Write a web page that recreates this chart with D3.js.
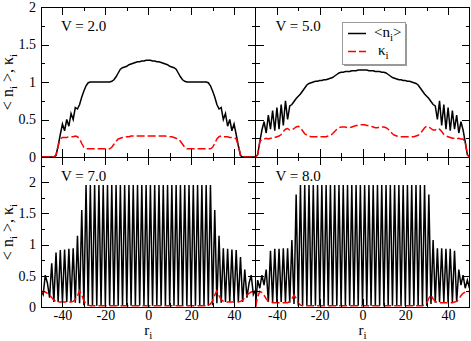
<!DOCTYPE html>
<html>
<head>
<meta charset="utf-8">
<script src="https://cdn.jsdelivr.net/npm/d3@7"></script>
<style>
  body { margin: 0; background: #fff; }
  svg text { font-family: "Liberation Serif", "Times New Roman", serif; fill: #000; }
</style>
</head>
<body>
<div id="chart"></div>
<script>
// lattice sites r_i, values in rows of ten sites (-50..-41, -40..-31, ...)
const sites = d3.range(-50, 51);

const n2 = [
  0, 0, 0, 0, 0, 0, 0, 0.02, 0.15, 0.30,
  0.44, 0.35, 0.50, 0.41, 0.58, 0.50, 0.66, 0.64, 0.70, 0.80,
  0.88, 0.95, 0.99, 1.00, 1.00, 1.00, 1.00, 1.00, 1.00, 1.00,
  1.00, 1.00, 1.00, 1.01, 1.03, 1.07, 1.12, 1.17, 1.19, 1.20,
  1.21, 1.23, 1.24, 1.25, 1.26, 1.27, 1.27, 1.28, 1.28, 1.29,
  1.29,
  1.29, 1.28, 1.28, 1.27, 1.27, 1.26, 1.25, 1.24, 1.23, 1.21,
  1.20, 1.19, 1.17, 1.12, 1.07, 1.03, 1.01, 1.00, 1.00, 1.00,
  1.00, 1.00, 1.00, 1.00, 1.00, 1.00, 1.00, 0.99, 0.95, 0.88,
  0.80, 0.70, 0.64, 0.66, 0.50, 0.58, 0.41, 0.50, 0.35, 0.44,
  0.30, 0.15, 0.02, 0, 0, 0, 0, 0, 0, 0
];
const k2 = [
  0, 0, 0, 0, 0, 0, 0, 0.03, 0.15, 0.24,
  0.26, 0.26, 0.26, 0.27, 0.27, 0.27, 0.28, 0.27, 0.24, 0.18,
  0.13, 0.11, 0.11, 0.11, 0.11, 0.11, 0.11, 0.11, 0.11, 0.11,
  0.11, 0.11, 0.11, 0.13, 0.17, 0.21, 0.24, 0.25, 0.26, 0.27,
  0.27, 0.27, 0.28, 0.28, 0.28, 0.28, 0.28, 0.28, 0.28, 0.28,
  0.28,
  0.28, 0.28, 0.28, 0.28, 0.28, 0.28, 0.28, 0.28, 0.27, 0.27,
  0.27, 0.26, 0.25, 0.24, 0.21, 0.17, 0.13, 0.11, 0.11, 0.11,
  0.11, 0.11, 0.11, 0.11, 0.11, 0.11, 0.11, 0.11, 0.11, 0.13,
  0.18, 0.24, 0.27, 0.28, 0.27, 0.27, 0.27, 0.26, 0.26, 0.26,
  0.24, 0.15, 0.03, 0, 0, 0, 0, 0, 0, 0
];
const n5 = [
  0, 0.03, 0.20, 0.36, 0.47, 0.32, 0.56, 0.37, 0.62, 0.35,
  0.66, 0.37, 0.70, 0.42, 0.75, 0.50, 0.68, 0.70, 0.74, 0.78,
  0.81, 0.84, 0.88, 0.92, 0.96, 0.98, 0.99, 1.00, 1.01, 1.01,
  1.02, 1.02, 1.03, 1.03, 1.04, 1.05, 1.06, 1.08, 1.10, 1.12,
  1.13, 1.13, 1.14, 1.14, 1.14, 1.15, 1.15, 1.15, 1.16, 1.16,
  1.16,
  1.16, 1.16, 1.15, 1.15, 1.15, 1.14, 1.14, 1.14, 1.13, 1.13,
  1.12, 1.10, 1.08, 1.06, 1.05, 1.04, 1.03, 1.03, 1.02, 1.02,
  1.01, 1.01, 1.00, 0.99, 0.98, 0.96, 0.92, 0.88, 0.84, 0.81,
  0.78, 0.74, 0.70, 0.68, 0.50, 0.75, 0.42, 0.70, 0.37, 0.66,
  0.35, 0.62, 0.37, 0.56, 0.32, 0.47, 0.36, 0.20, 0.03, 0
];
const k5 = [
  0, 0.03, 0.20, 0.24, 0.24, 0.25, 0.24, 0.25, 0.25, 0.26,
  0.27, 0.28, 0.30, 0.34, 0.37, 0.38, 0.36, 0.36, 0.38, 0.40,
  0.41, 0.39, 0.35, 0.31, 0.29, 0.28, 0.27, 0.27, 0.27, 0.27,
  0.27, 0.27, 0.27, 0.27, 0.28, 0.29, 0.31, 0.34, 0.37, 0.39,
  0.40, 0.40, 0.40, 0.39, 0.39, 0.40, 0.41, 0.42, 0.42, 0.43,
  0.43,
  0.43, 0.42, 0.42, 0.41, 0.40, 0.39, 0.39, 0.40, 0.40, 0.40,
  0.39, 0.37, 0.34, 0.31, 0.29, 0.28, 0.27, 0.27, 0.27, 0.27,
  0.27, 0.27, 0.27, 0.27, 0.28, 0.29, 0.31, 0.35, 0.39, 0.41,
  0.40, 0.38, 0.36, 0.36, 0.38, 0.37, 0.34, 0.30, 0.28, 0.27,
  0.26, 0.25, 0.25, 0.24, 0.25, 0.24, 0.24, 0.20, 0.03, 0
];
const n7 = [
  0.27, 0.20, 0.51, 0.38, 0.15, 0.70, 0.08, 0.87, 0.08, 0.91,
  0.08, 0.92, 0.08, 0.93, 0.08, 0.94, 0.07, 1.14, 0.06, 1.55,
  0.03, 1.95, 0.02, 1.95, 0.02, 1.95, 0.02, 1.95, 0.02, 1.95,
  0.02, 1.95, 0.02, 1.95, 0.02, 1.95, 0.02, 1.95, 0.02, 1.95,
  0.02, 1.95, 0.02, 1.95, 0.02, 1.95, 0.02, 1.95, 0.02, 1.95,
  0.02,
  1.95, 0.02, 1.95, 0.02, 1.95, 0.02, 1.95, 0.02, 1.95, 0.02,
  1.95, 0.02, 1.95, 0.02, 1.95, 0.02, 1.95, 0.02, 1.95, 0.02,
  1.95, 0.02, 1.95, 0.02, 1.95, 0.02, 1.95, 0.02, 1.95, 0.03,
  1.55, 0.06, 1.14, 0.07, 0.94, 0.08, 0.93, 0.08, 0.92, 0.08,
  0.91, 0.08, 0.80, 0.08, 0.60, 0.15, 0.38, 0.51, 0.20, 0.27
];
const k7 = [
  0.22, 0.25, 0.24, 0.22, 0.19, 0.15, 0.11, 0.09, 0.08, 0.08,
  0.08, 0.08, 0.08, 0.08, 0.08, 0.09, 0.12, 0.18, 0.26, 0.19,
  0.10, 0.05, 0.03, 0.02, 0.02, 0.02, 0.02, 0.02, 0.02, 0.02,
  0.02, 0.02, 0.02, 0.02, 0.02, 0.02, 0.02, 0.02, 0.02, 0.02,
  0.02, 0.02, 0.02, 0.02, 0.02, 0.02, 0.02, 0.02, 0.02, 0.02,
  0.02,
  0.02, 0.02, 0.02, 0.02, 0.02, 0.02, 0.02, 0.02, 0.02, 0.02,
  0.02, 0.02, 0.02, 0.02, 0.02, 0.02, 0.02, 0.02, 0.02, 0.02,
  0.02, 0.02, 0.02, 0.02, 0.02, 0.02, 0.02, 0.03, 0.05, 0.10,
  0.19, 0.26, 0.18, 0.12, 0.09, 0.08, 0.08, 0.08, 0.08, 0.08,
  0.08, 0.08, 0.09, 0.11, 0.15, 0.19, 0.22, 0.24, 0.25, 0.22
];
const n8 = [
  0, 0.43, 0.30, 0.51, 0.35, 0.60, 0.08, 0.90, 0.08, 0.93,
  0.08, 0.93, 0.08, 0.94, 0.08, 0.94, 0.07, 1.07, 0.05, 1.80,
  0.02, 1.95, 0.02, 1.95, 0.02, 1.95, 0.02, 1.95, 0.02, 1.95,
  0.02, 1.95, 0.02, 1.95, 0.02, 1.95, 0.02, 1.95, 0.02, 1.95,
  0.02, 1.95, 0.02, 1.95, 0.02, 1.95, 0.02, 1.95, 0.02, 1.95,
  0.02,
  1.95, 0.02, 1.95, 0.02, 1.95, 0.02, 1.95, 0.02, 1.95, 0.02,
  1.95, 0.02, 1.95, 0.02, 1.95, 0.02, 1.95, 0.02, 1.95, 0.02,
  1.95, 0.02, 1.95, 0.02, 1.95, 0.02, 1.95, 0.02, 1.95, 0.02,
  1.80, 0.05, 1.07, 0.07, 0.94, 0.08, 0.94, 0.08, 0.93, 0.08,
  0.93, 0.08, 0.90, 0.08, 0.60, 0.35, 0.51, 0.30, 0.43, 0.30
];
const k8 = [
  0, 0.16, 0.25, 0.23, 0.19, 0.13, 0.09, 0.08, 0.07, 0.07,
  0.07, 0.07, 0.07, 0.07, 0.07, 0.07, 0.09, 0.13, 0.19, 0.14,
  0.06, 0.03, 0.02, 0.02, 0.02, 0.02, 0.02, 0.02, 0.02, 0.02,
  0.02, 0.02, 0.02, 0.02, 0.02, 0.02, 0.02, 0.02, 0.02, 0.02,
  0.02, 0.02, 0.02, 0.02, 0.02, 0.02, 0.02, 0.02, 0.02, 0.02,
  0.02,
  0.02, 0.02, 0.02, 0.02, 0.02, 0.02, 0.02, 0.02, 0.02, 0.02,
  0.02, 0.02, 0.02, 0.02, 0.02, 0.02, 0.02, 0.02, 0.02, 0.02,
  0.02, 0.02, 0.02, 0.02, 0.02, 0.02, 0.02, 0.02, 0.03, 0.06,
  0.14, 0.19, 0.13, 0.09, 0.07, 0.07, 0.07, 0.07, 0.07, 0.07,
  0.07, 0.07, 0.08, 0.09, 0.12, 0.18, 0.22, 0.24, 0.25, 0.25
];

const vLabels = ["V = 2.0", "V = 5.0", "V = 7.0", "V = 8.0"];
const xMajor = [-40, -20, 0, 20, 40];
const xMinor = [-30, -10, 10, 30];
const xTickLabels = ["-40", "-20", "0", "20", "40"];
const yMajor = [0, 0.5, 1, 1.5, 2];
const yMinor = [0.25, 0.75, 1.25, 1.75, 2.25];
const yTickLabels = ["0", "0.5", "1", "1.5", "2"];
const yMax = [2, 2.4];

const width = 471, height = 341;
const colX = [41, 255.5, 469.5],
    rowY = [7, 157, 307];

const svg = d3.select("#chart").append("svg")
    .attr("width", width)
    .attr("height", height);

const panels = [
    {label: vLabels[0], n: n2, k: k2, col: 0, row: 0},
    {label: vLabels[1], n: n5, k: k5, col: 1, row: 0},
    {label: vLabels[2], n: n7, k: k7, col: 0, row: 1},
    {label: vLabels[3], n: n8, k: k8, col: 1, row: 1}
];

function addTicks(g, axisFn, scale, transform, values, size, labels, pad) {
    const axis = axisFn(scale)
        .tickValues(values)
        .tickSizeInner(-size)
        .tickSizeOuter(0)
        .tickPadding(pad || 3)
        .tickFormat(labels ? (d, i) => labels[i] : "");
    const ag = g.append("g")
        .attr("transform", transform)
        .call(axis)
        .attr("font-size", 14);
    ag.select(".domain").remove();
    ag.selectAll("line").attr("stroke", "#000").attr("shape-rendering", "crispEdges");
}

panels.forEach((p, i) => {
    const x0 = colX[p.col], x1 = colX[p.col + 1],
        y0 = rowY[p.row], y1 = rowY[p.row + 1];

    const x = d3.scaleLinear().domain([-50, 50]).range([x0, x1]);
    const y = d3.scaleLinear().domain([0, yMax[p.row]]).range([y1, y0]);

    const g = svg.append("g").attr("class", "panel");

    svg.append("clipPath").attr("id", "clip" + i)
        .append("rect")
        .attr("x", x0).attr("y", y0)
        .attr("width", x1 - x0).attr("height", y1 - y0);

    const line = d3.line()
        .x((d, j) => x(sites[j]))
        .y(d => y(d));

    const lines = g.append("g").attr("clip-path", "url(#clip" + i + ")");
    lines.append("path")
        .datum(p.n)
        .attr("fill", "none")
        .attr("stroke", "#000")
        .attr("stroke-width", 1.5)
        .attr("d", line);
    lines.append("path")
        .datum(p.k)
        .attr("fill", "none")
        .attr("stroke", "#ff0000")
        .attr("stroke-width", 1.5)
        .attr("stroke-dasharray", "8,3")
        .attr("d", line);

    const yMin = yMinor.filter(v => v < yMax[p.row]);
    const bottomLabels = p.row === 1 ? xTickLabels : null;
    const leftLabels = p.col === 0 ? yTickLabels : null;

    addTicks(g, d3.axisLeft, y, `translate(${x0},0)`, yMajor, 8, leftLabels, 5);
    addTicks(g, d3.axisLeft, y, `translate(${x0},0)`, yMin, 4);
    addTicks(g, d3.axisRight, y, `translate(${x1},0)`, yMajor, 8);
    addTicks(g, d3.axisRight, y, `translate(${x1},0)`, yMin, 4);
    addTicks(g, d3.axisTop, x, `translate(0,${y0})`, xMajor, 8);
    addTicks(g, d3.axisTop, x, `translate(0,${y0})`, xMinor, 4);
    addTicks(g, d3.axisBottom, x, `translate(0,${y1})`, xMajor, 8, bottomLabels, 3);
    addTicks(g, d3.axisBottom, x, `translate(0,${y1})`, xMinor, 4);

    g.append("rect")
        .attr("x", x0).attr("y", y0)
        .attr("width", x1 - x0).attr("height", y1 - y0)
        .attr("fill", "none")
        .attr("stroke", "#000")
        .attr("shape-rendering", "crispEdges");

    g.append("text")
        .attr("x", x0 + 20)
        .attr("y", y0 + 24)
        .attr("font-size", 15)
        .text(p.label);

    if (p.row === 1) {
        const t = g.append("text")
            .attr("x", (x0 + x1) / 2)
            .attr("y", 335)
            .attr("text-anchor", "middle")
            .attr("font-size", 15);
        t.append("tspan").text("r");
        t.append("tspan").attr("dy", 4).attr("font-size", 11).text("i");
    }

    if (p.col === 0) {
        const t = g.append("text")
            .attr("transform", `translate(13,${(y0 + y1) / 2}) rotate(-90)`)
            .attr("text-anchor", "middle")
            .attr("font-size", 16);
        t.append("tspan").text("< n");
        t.append("tspan").attr("dy", 4).attr("font-size", 11).text("i");
        t.append("tspan").attr("dy", -4).text(" >, κ");
        t.append("tspan").attr("dy", 4).attr("font-size", 11).text("i");
    }
});

// legend
const legend = svg.append("g").attr("class", "legend");
legend.append("rect")
    .attr("x", 344).attr("y", 24).attr("width", 63).attr("height", 42)
    .attr("fill", "#999");
legend.append("rect")
    .attr("x", 342.5).attr("y", 22.5).attr("width", 63).attr("height", 42)
    .attr("fill", "#fff").attr("stroke", "#999");

const items = [
    {name: "<n", color: "#000", dash: null},
    {name: "κ", color: "#ff0000", dash: "8,3"}
];
items.forEach((d, i) => {
    const yy = 33.5 + i * 18;
    legend.append("line")
        .attr("x1", 348).attr("x2", 366)
        .attr("y1", yy).attr("y2", yy)
        .attr("stroke", d.color)
        .attr("stroke-width", 1.5)
        .attr("stroke-dasharray", d.dash);
    const t = legend.append("text")
        .attr("x", i === 0 ? 374 : 378)
        .attr("y", yy + 3.5)
        .attr("font-size", 15);
    t.append("tspan").text(d.name);
    t.append("tspan").attr("dy", 4).attr("font-size", 11).text("i");
    if (i === 0) t.append("tspan").attr("dy", -4).text(">");
});
</script>
</body>
</html>
